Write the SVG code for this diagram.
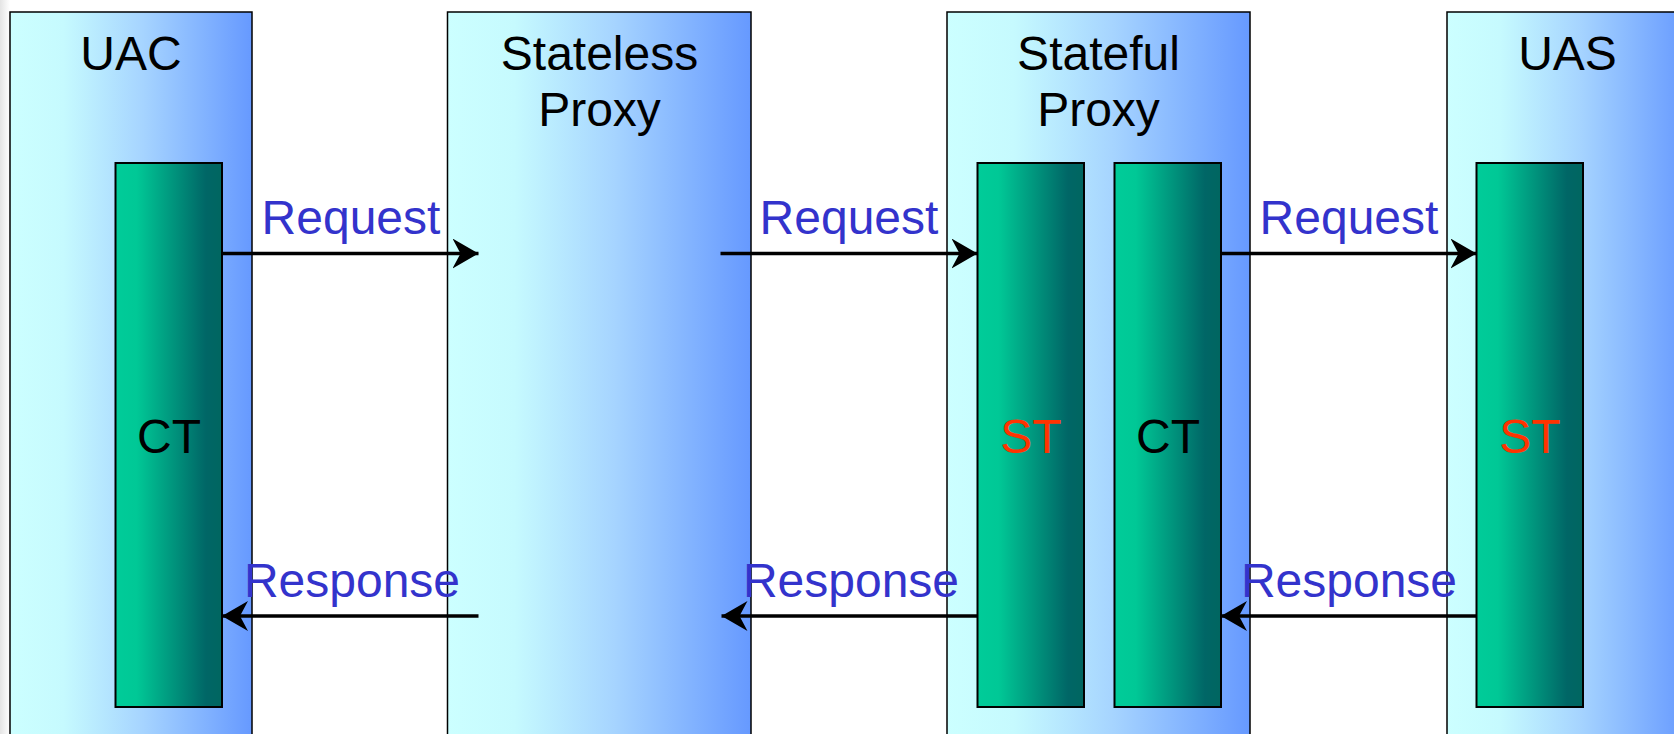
<svg xmlns="http://www.w3.org/2000/svg" width="1674" height="734" viewBox="0 0 1674 734">
  <defs>
    <linearGradient id="outerGrad" x1="0" y1="0" x2="1" y2="0">
      <stop offset="0" stop-color="#ccffff"/>
      <stop offset="0.22" stop-color="#c6fafe"/>
      <stop offset="0.55" stop-color="#a6d4ff"/>
      <stop offset="1" stop-color="#6699ff"/>
    </linearGradient>
    <linearGradient id="innerGrad" x1="0" y1="0" x2="1" y2="0">
      <stop offset="0" stop-color="#00cc99"/>
      <stop offset="0.2" stop-color="#00c896"/>
      <stop offset="0.85" stop-color="#006666"/>
      <stop offset="1" stop-color="#006660"/>
    </linearGradient>
    <linearGradient id="edgeGrad" x1="0" y1="0" x2="1" y2="0">
      <stop offset="0" stop-color="#e4e4e4"/>
      <stop offset="1" stop-color="#ffffff"/>
    </linearGradient>
    <marker id="arrow" viewBox="0 0 26 30" refX="26" refY="15" markerWidth="26" markerHeight="30" markerUnits="userSpaceOnUse" orient="auto">
      <path d="M0,0 L26,15 L0,30 L8,15 Z" fill="#000"/>
    </marker>
    <style>
      .outer { fill: url(#outerGrad); stroke: #000; stroke-width: 1.5; }
      .inner { fill: url(#innerGrad); stroke: #000; stroke-width: 2; }
      .title { font-family: "Liberation Sans", Arial, sans-serif; font-size: 48px; fill: #000; text-anchor: middle; }
      .tx { font-family: "Liberation Sans", Arial, sans-serif; font-size: 48px; text-anchor: middle; }
      .ct { fill: #000; }
      .st { fill: #ff3300; }
      .lbl { font-family: "Liberation Sans", Arial, sans-serif; font-size: 48px; fill: #3333cc; text-anchor: middle; }
      .conn { stroke: #000; stroke-width: 3.5; fill: none; marker-end: url(#arrow); }
    </style>
  </defs>
  <rect x="0" y="0" width="1674" height="734" fill="#ffffff"/>
  <rect x="0" y="0" width="10" height="734" fill="url(#edgeGrad)"/>

  <g id="uac">
    <rect class="outer" x="10" y="12" width="242" height="740"/>
    <text class="title" x="131" y="70">UAC</text>
    <rect class="inner" x="115.5" y="163" width="106.5" height="544"/>
    <text class="tx ct" x="169" y="453">CT</text>
  </g>

  <g id="stateless-proxy">
    <rect class="outer" x="447.5" y="12" width="303.5" height="740"/>
    <text class="title" x="599.5" y="70">Stateless</text>
    <text class="title" x="599.5" y="126">Proxy</text>
  </g>

  <g id="stateful-proxy">
    <rect class="outer" x="947" y="12" width="303" height="740"/>
    <text class="title" x="1098.5" y="70">Stateful</text>
    <text class="title" x="1098.5" y="126">Proxy</text>
    <rect class="inner" x="977.5" y="163" width="106.5" height="544"/>
    <text class="tx st" x="1031" y="453">ST</text>
    <rect class="inner" x="1114.5" y="163" width="106.5" height="544"/>
    <text class="tx ct" x="1168" y="453">CT</text>
  </g>

  <g id="uas">
    <rect class="outer" x="1447" y="12" width="242" height="740"/>
    <text class="title" x="1567.5" y="70">UAS</text>
    <rect class="inner" x="1476.5" y="163" width="106.5" height="544"/>
    <text class="tx st" x="1530" y="453">ST</text>
  </g>

  <g id="connectors">
    <line class="conn" x1="222" y1="253.5" x2="478.5" y2="253.5"/>
    <line class="conn" x1="720.5" y1="253.5" x2="977.5" y2="253.5"/>
    <line class="conn" x1="1221" y1="253.5" x2="1476.5" y2="253.5"/>
    <line class="conn" x1="478.5" y1="616" x2="222" y2="616"/>
    <line class="conn" x1="977.5" y1="616" x2="721.5" y2="616"/>
    <line class="conn" x1="1476.5" y1="616" x2="1221" y2="616"/>
    <text class="lbl" x="351" y="234">Request</text>
    <text class="lbl" x="849" y="234">Request</text>
    <text class="lbl" x="1349" y="234">Request</text>
    <text class="lbl" x="352" y="597">Response</text>
    <text class="lbl" x="851" y="597">Response</text>
    <text class="lbl" x="1349" y="597">Response</text>
  </g>
</svg>
